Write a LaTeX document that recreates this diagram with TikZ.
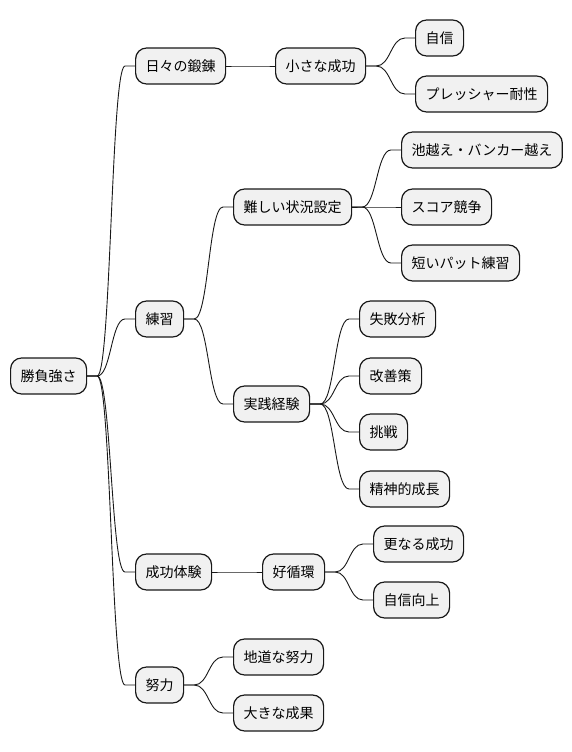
\documentclass[tikz,border=0pt]{standalone}
\usepackage{fontspec}
\setmainfont{Noto Sans CJK JP}
\usetikzlibrary{calc}
\definecolor{mmfill}{HTML}{F1F1F1}
\definecolor{mmline}{HTML}{181818}
\newcommand\mmconn[2]{%
  \path (#1.east) ++(10pt,0) coordinate (mmA);
  \path (#2.west) ++(-10pt,0) coordinate (mmB);
  \path ($(mmA)!0.5!(mmB)$) coordinate (mmM);
  \draw[conn] (#1.east) -- (mmA) .. controls (mmA -| mmM) and (mmB -| mmM) .. (mmB) -- (#2.west);
}
\begin{document}
\begin{tikzpicture}[x=1pt,y=-1pt,
  mm/.style={draw=mmline, fill=mmfill, line width=1.2pt, rounded corners=11pt,
    minimum height=36pt, inner xsep=10pt, inner ysep=0pt, anchor=west,
    font=\fontsize{14pt}{16pt}\selectfont},
  conn/.style={line width=0.9pt, draw=mmline}]
\useasboundingbox (0,0) rectangle (572,752);
\node[mm] (root) at (10,376) {勝負強さ};
\node[mm] (a1) at (135,66) {日々の鍛錬};
\node[mm] (a2) at (135,319) {練習};
\node[mm] (a3) at (135,572) {成功体験};
\node[mm] (a4) at (135,685) {努力};
\node[mm] (b1) at (275,66) {小さな成功};
\node[mm] (b2) at (233,207) {難しい状況設定};
\node[mm] (b3) at (233,404) {実践経験};
\node[mm] (b4) at (262,572) {好循環};
\node[mm] (b5) at (233,657) {地道な努力};
\node[mm] (b6) at (233,713) {大きな成果};
\node[mm] (c1) at (415,38) {自信};
\node[mm] (c2) at (415,94) {プレッシャー耐性};
\node[mm] (c3) at (401,150) {池越え・バンカー越え};
\node[mm] (c4) at (401,207) {スコア競争};
\node[mm] (c5) at (401,263) {短いパット練習};
\node[mm] (c6) at (359,319) {失敗分析};
\node[mm] (c7) at (359,376) {改善策};
\node[mm] (c8) at (359,432) {挑戦};
\node[mm] (c9) at (359,489) {精神的成長};
\node[mm] (c10) at (373,544) {更なる成功};
\node[mm] (c11) at (373,600) {自信向上};
\mmconn{root}{a1}
\mmconn{root}{a2}
\mmconn{root}{a3}
\mmconn{root}{a4}
\mmconn{a1}{b1}
\mmconn{a2}{b2}
\mmconn{a2}{b3}
\mmconn{a3}{b4}
\mmconn{a4}{b5}
\mmconn{a4}{b6}
\mmconn{b1}{c1}
\mmconn{b1}{c2}
\mmconn{b2}{c3}
\mmconn{b2}{c4}
\mmconn{b2}{c5}
\mmconn{b3}{c6}
\mmconn{b3}{c7}
\mmconn{b3}{c8}
\mmconn{b3}{c9}
\mmconn{b4}{c10}
\mmconn{b4}{c11}
\end{tikzpicture}
\end{document}
